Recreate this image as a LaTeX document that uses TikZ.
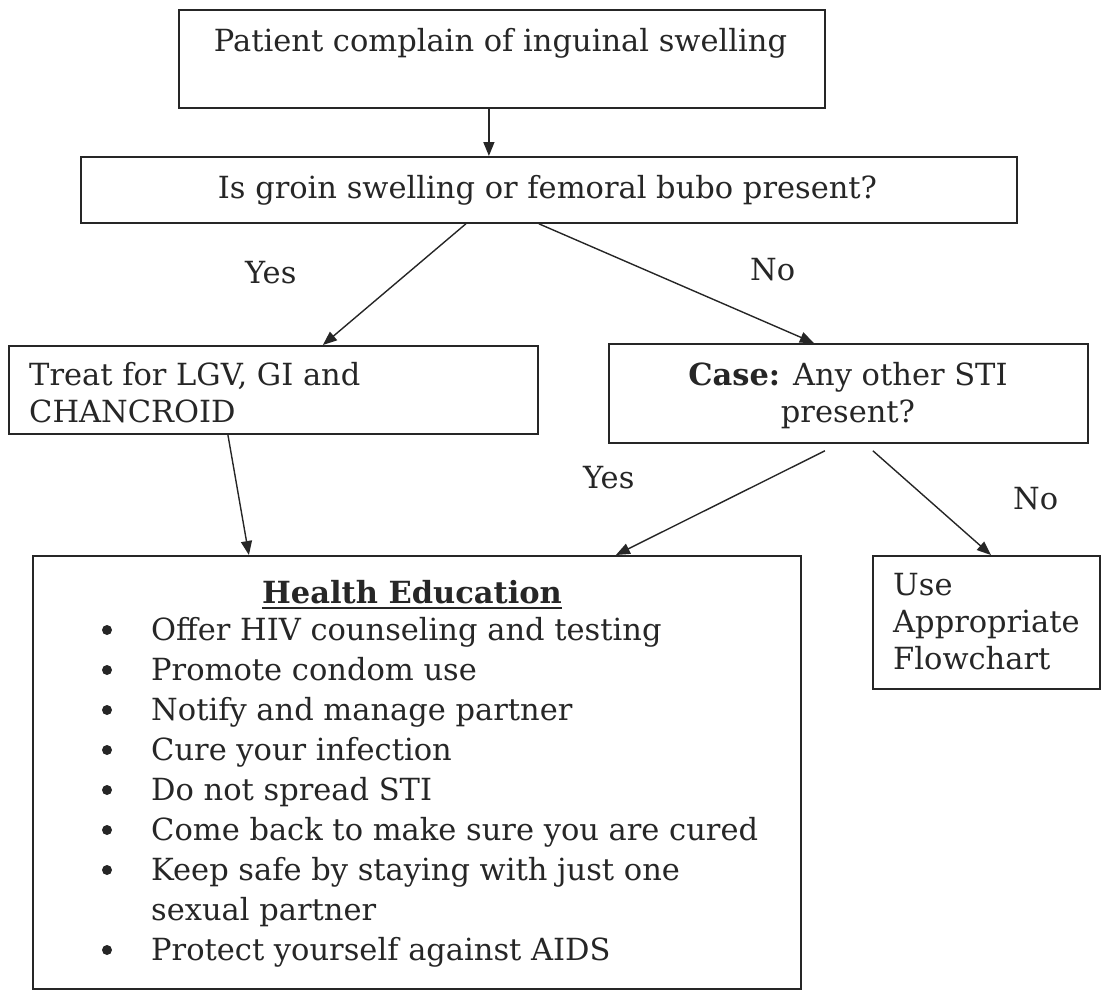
\documentclass[tikz,border=0pt]{standalone}
\usepackage{fontspec}
\setmainfont{DejaVu Serif}
\usetikzlibrary{arrows.meta,calc}
\definecolor{ink}{HTML}{262626}
\tikzset{
  box/.style={draw=ink, line width=1.8pt, rectangle, inner sep=0pt, anchor=north west},
  lbl/.style={anchor=base west, inner sep=0pt, text=ink, font=\fontsize{30.5}{36}\selectfont},
  lblc/.style={lbl, anchor=base},
  dot/.style={circle, fill=ink, inner sep=0pt, minimum size=10pt},
  arr/.style={draw=ink, line width=1.4pt, -{Triangle[length=14pt,width=11pt]}},
}
\begin{document}
\begin{tikzpicture}[x=1pt,y=-1pt]
\useasboundingbox (0,0) rectangle (1102,991);

% boxes
\node[box, minimum width=646pt, minimum height=98pt]  (b1) at (178,9)   {};
\node[box, minimum width=936pt, minimum height=66pt]  (b2) at (80,156)  {};
\node[box, minimum width=529pt, minimum height=88pt]  (b3) at (8,345)   {};
\node[box, minimum width=479pt, minimum height=99pt]  (b4) at (608,343) {};
\node[box, minimum width=768pt, minimum height=433pt] (b5) at (32,555)  {};
\node[box, minimum width=227pt, minimum height=133pt] (b6) at (872,555) {};

% box texts
\node[lblc] (t1) at (500.5,51) {Patient complain of inguinal swelling};
\node[lblc] (t2) at (547.5,198) {Is groin swelling or femoral bubo present?};
\node[lbl]  (t3a) at (29,385) {Treat for LGV, GI and};
\node[lbl]  (t3b) at (29,422) {CHANCROID};
\node[lblc] (t4a) at (848,385) {\textbf{Case:} Any other STI};
\node[lblc] (t4b) at (848,422) {present?};
\node[lbl]  (t6a) at (893,595) {Use};
\node[lbl]  (t6b) at (893,632) {Appropriate};
\node[lbl]  (t6c) at (893,669) {Flowchart};

% health education list
\node[lblc] (he) at (412,603) {\bfseries Health Education};
\draw[ink, line width=2pt] ([yshift=-5pt]he.base west) -- ([yshift=-5pt]he.base east);
\node[lbl] (h1) at (151,640) {Offer HIV counseling and testing};
\node[lbl] (h2) at (151,680) {Promote condom use};
\node[lbl] (h3) at (151,720) {Notify and manage partner};
\node[lbl] (h4) at (151,760) {Cure your infection};
\node[lbl] (h5) at (151,800) {Do not spread STI};
\node[lbl] (h6) at (151,840) {Come back to make sure you are cured};
\node[lbl] (h7) at (151,880) {Keep safe by staying with just one};
\node[lbl] (h8) at (151,920) {sexual partner};
\node[lbl] (h9) at (151,960) {Protect yourself against AIDS};
\foreach \n/\yy in {1/640,2/680,3/720,4/760,5/800,6/840,7/880,9/960}
  \node[dot] (d\n) at (107,\yy-10) {};

% branch labels
\node[lbl] (y1) at (245,283) {Yes};
\node[lbl] (n1) at (750,280) {No};
\node[lbl] (y2) at (583,488) {Yes};
\node[lbl] (n2) at (1013,509) {No};

% connectors
\draw[arr] ([xshift=-13pt]b1.south) -- ([xshift=-60pt]b2.north);
\draw[arr] ([xshift=-83pt]b2.south) -- ([xshift=49.5pt]b3.north);
\draw[arr] ([xshift=-10pt]b2.south) -- ([xshift=-34.5pt]b4.north);
\draw[arr] ([xshift=-45.5pt]b3.south) -- ([xshift=-168pt]b5.north);
\draw[arr] ([xshift=-23.5pt,yshift=-7pt]b4.south) -- ([xshift=199pt]b5.north);
\draw[arr] ([xshift=24.5pt,yshift=-7pt]b4.south) -- ([xshift=4.5pt]b6.north);
\end{tikzpicture}
\end{document}
